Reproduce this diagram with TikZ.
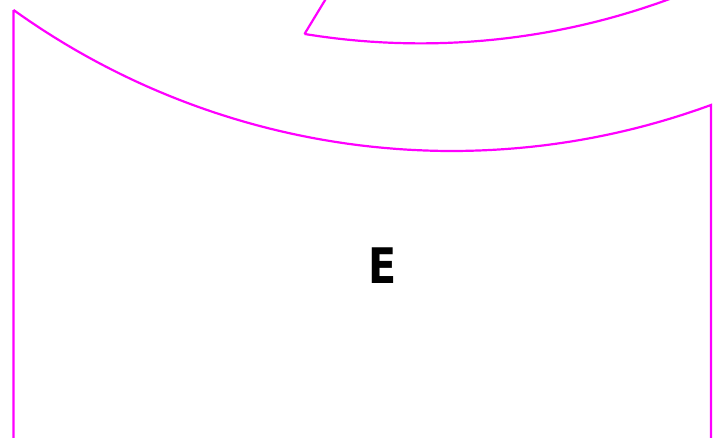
\documentclass[tikz,border=0pt]{standalone}
\usepackage{fontspec}
\setmainfont{DejaVu Sans}
\newfontfamily\efont{DejaVu Sans}[FakeStretch=0.84]
\definecolor{mag}{HTML}{FF00FF}
\begin{document}
\begin{tikzpicture}[x=1pt,y=-1pt,
  outline/.style={draw=mag,line width=2.2pt,line join=miter},
  lbl/.style={font=\efont\fontsize{49}{53}\selectfont\bfseries,text=black,inner sep=0pt}]
\useasboundingbox (0,0) rectangle (723,437);
\begin{scope}
\clip (0,0) rectangle (723,437);
\draw[outline] (13.5,445) -- (13.5,10)
  plot[domain=125.66:69.86,samples=120,variable=\t] ({451.97+752.25*cos(\t)},{-601.25+752.25*sin(\t)})
  -- (711,445);
\draw[outline] (330,-8) -- (304.5,34)
  plot[domain=99.27:68.5,samples=100,variable=\t] ({420.6+720.9*cos(\t)},{-677.5+720.9*sin(\t)});
\end{scope}
\node[lbl] (e) at (382.5,266) {E};
\end{tikzpicture}
\end{document}
